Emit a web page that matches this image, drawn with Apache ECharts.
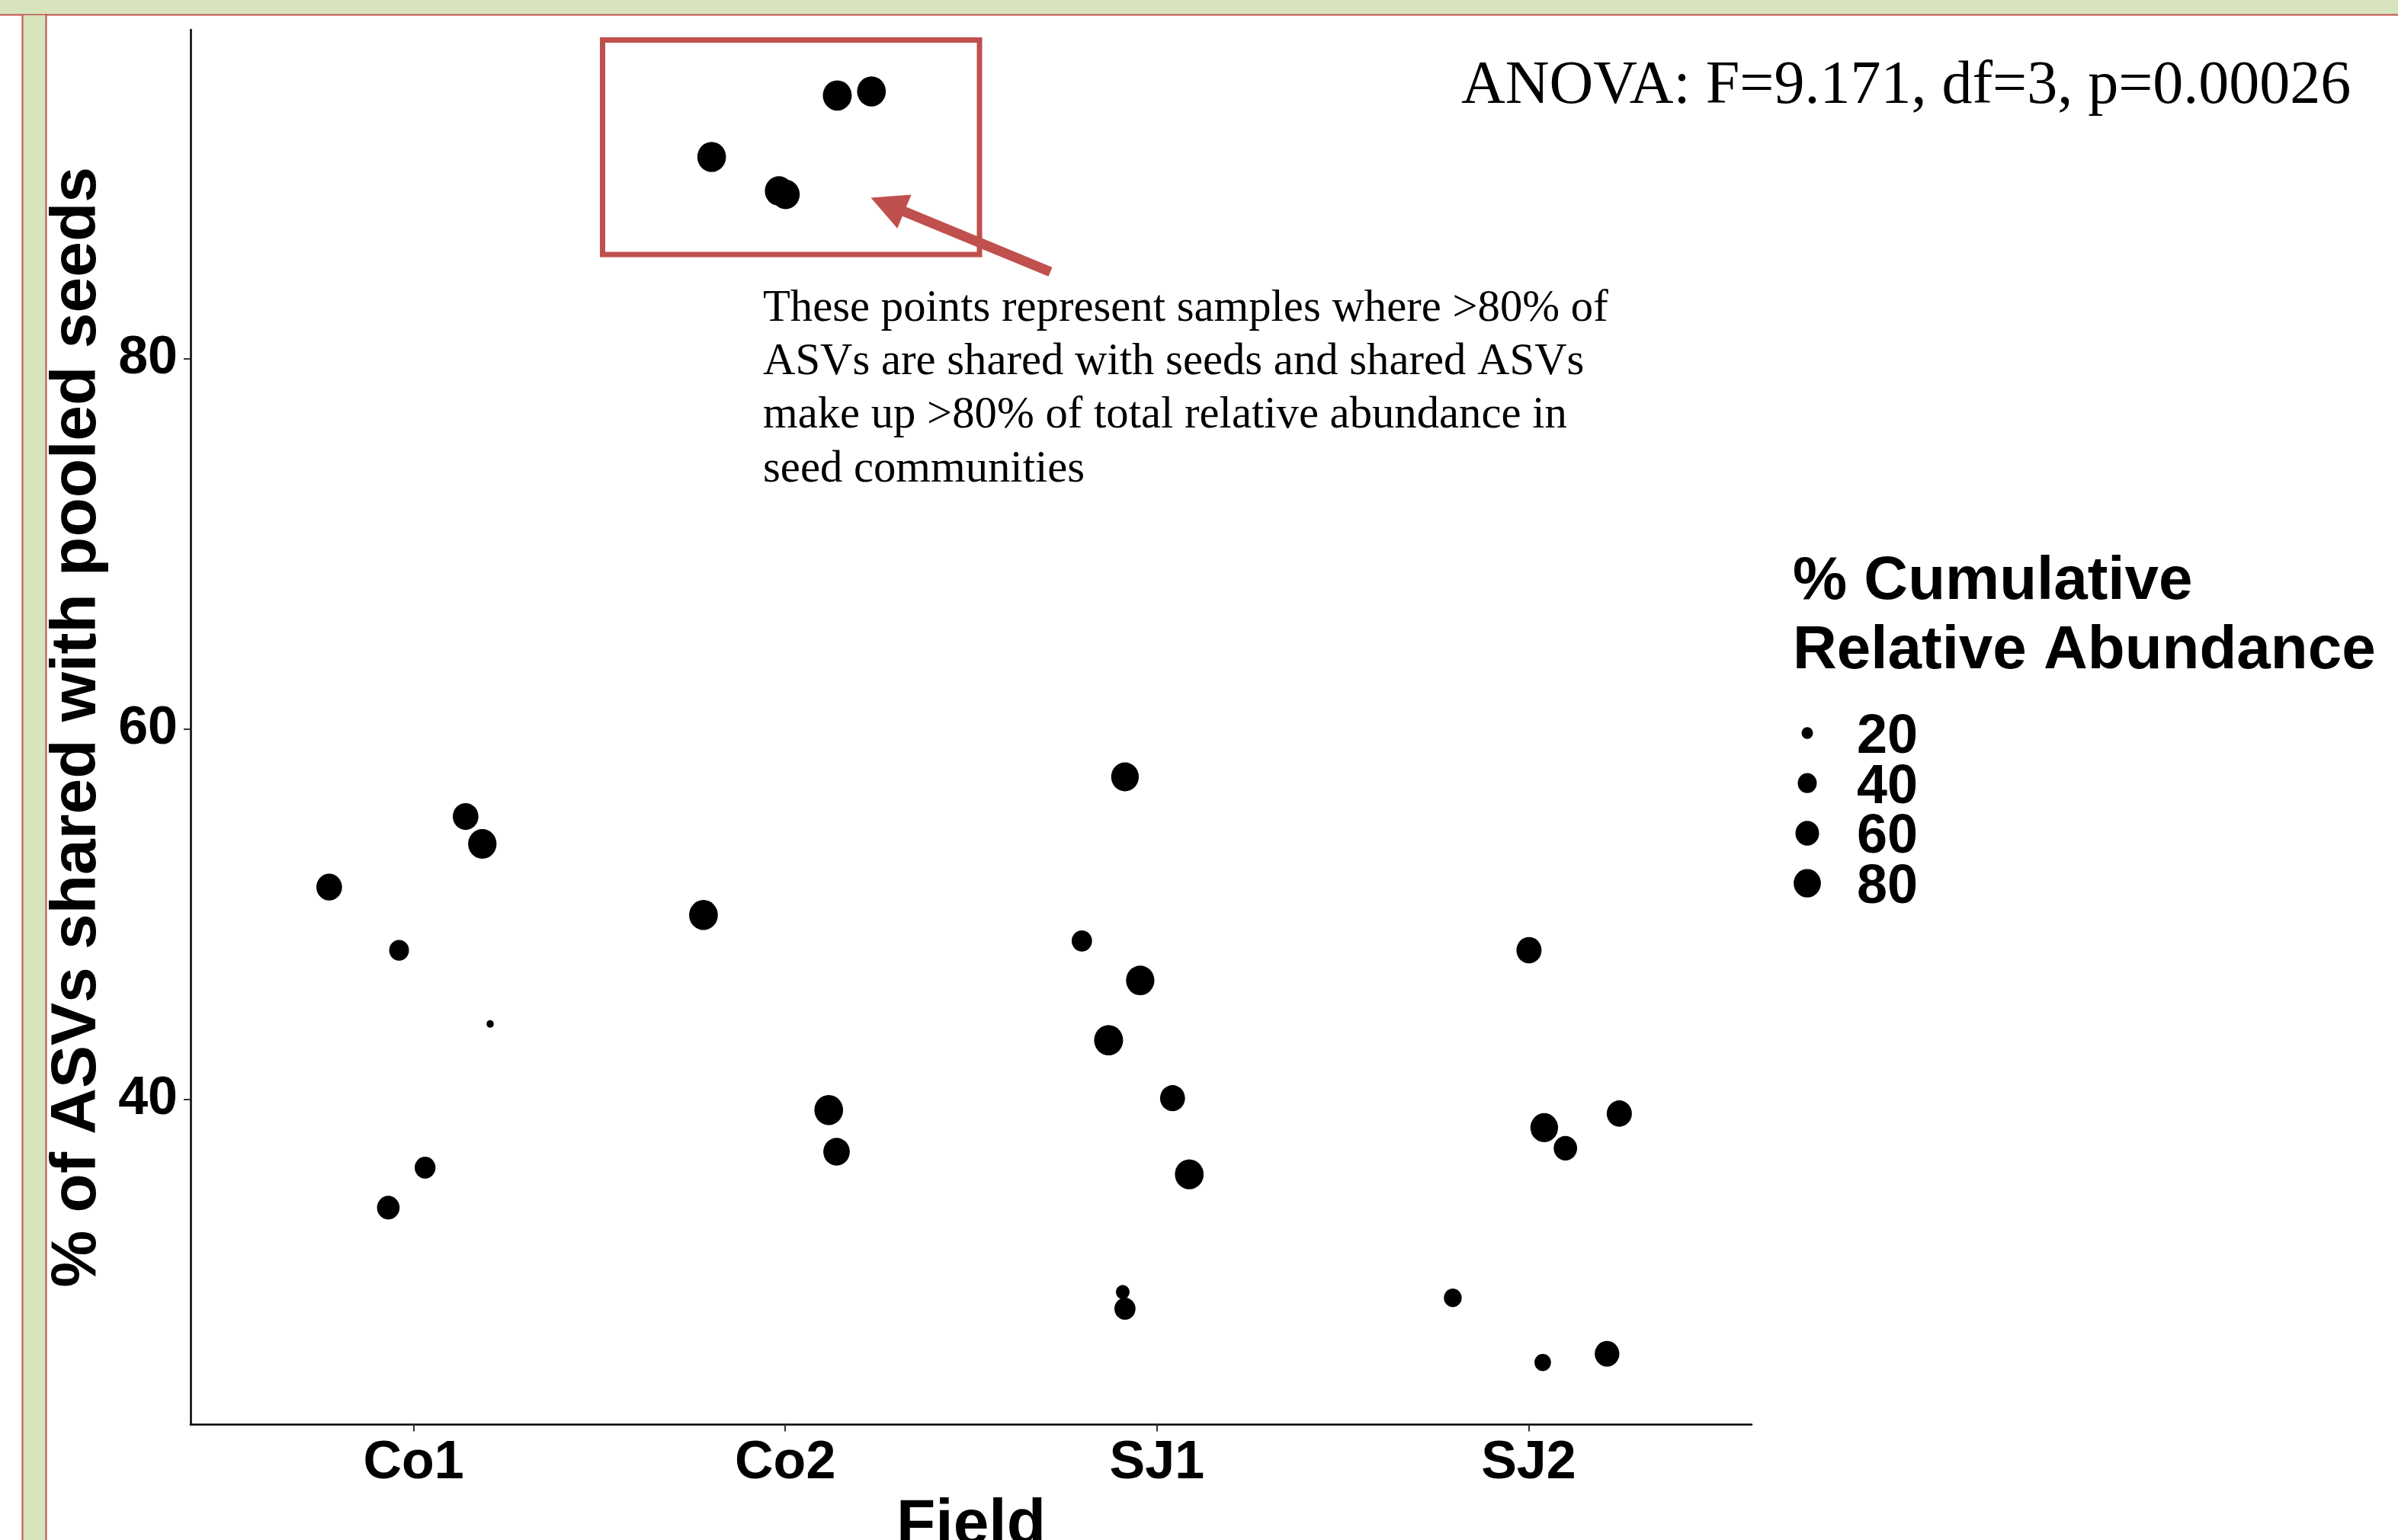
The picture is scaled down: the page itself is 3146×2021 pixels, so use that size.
<!DOCTYPE html>
<html>
<head>
<meta charset="utf-8">
<style>
html, body { margin: 0; padding: 0; background: #fff; }
#chart { width: 3146px; height: 2021px; }
</style>
<script src="https://cdn.jsdelivr.net/npm/echarts@6/dist/echarts.min.js"></script>
</head>
<body>
<div id="chart"></div>
<script>
// fields (x axis)
var fields = ['Co1', 'Co2', 'SJ1', 'SJ2'];

// jittered position, % of ASVs shared, % cumulative relative abundance
var co1X = [1.140, 1.185, 0.773, 0.961, 1.206, 1.031, 0.932];
var co1Y = [55.27, 53.79, 51.46, 48.05, 44.07, 36.31, 34.15];
var co1Abund = [71, 87.5, 71, 43, 16.2, 47, 55];

var co2X = [1.802, 1.983, 2.001, 2.140, 2.232, 1.780, 2.117, 2.138];
var co2Y = [90.88, 89.04, 88.86, 94.20, 94.42, 49.95, 39.42, 37.17];
var co2Abund = [89.5, 86, 86, 91, 89.5, 89.5, 89.5, 75.5];

var sj1X = [2.914, 2.798, 2.955, 2.870, 3.042, 3.087, 2.908, 2.914];
var sj1Y = [57.41, 48.55, 46.42, 43.19, 40.06, 35.95, 29.59, 28.69];
var sj1Abund = [82.7, 45, 87, 91, 66.8, 89.5, 24.2, 48.2];

var sj2X = [4.001, 4.042, 4.099, 4.244, 3.796, 4.038, 4.211];
var sj2Y = [48.05, 38.47, 37.36, 39.23, 29.28, 25.79, 26.26];
var sj2Abund = [68, 82.7, 58.8, 68, 35.4, 31.5, 65.1];

var yTicks = [40, 60, 80];
var xTicks = [1, 2, 3, 4];
var sizeBreaks = [20, 40, 60, 80];

var red = '#C0504D';
var green = '#D8E4BC';
var sans = '"Liberation Sans", Arial, sans-serif';
var narrow = '"Liberation Sans Narrow", "Liberation Sans", Arial, sans-serif';
var serif = '"Liberation Serif", "Times New Roman", serif';

// size scale (area style, like ggplot scale_size)
function dotWidth(v) {
	return 8.1 + 29.7 * Math.sqrt(Math.max(v - 16, 0) / 74);
}

function pts(xs, ys, ab) {
	var out = [];
	for (var i = 0; i < xs.length; i++) {
		out.push([xs[i], ys[i], ab[i]]);
	}
	return out;
}

var chart = echarts.init(document.getElementById('chart'));

var ellipse = 'path://M0,50A50,50,0,1,1,100,50A50,50,0,1,1,0,50Z';

function field(name, data) {
	return {
		name: name,
		type: 'scatter',
		data: data,
		symbol: ellipse,
		symbolSize: function(d) {
			var w = dotWidth(d[2]);
			return [w, w / 0.955];
		},
		itemStyle: { color: '#000', opacity: 1 },
		emphasis: { disabled: true },
		silent: true
	};
}

// arrow (slide annotation)
var tip = [1142.5, 259.5], tail = [1378, 356.7];
var dx = tip[0] - tail[0], dy = tip[1] - tail[1];
var len = Math.sqrt(dx * dx + dy * dy);
var ux = dx / len, uy = dy / len;
var nx = -uy, ny = ux;
var base = [tip[0] - ux * 47.5, tip[1] - uy * 47.5];
function off(p, k) { return [p[0] + nx * k, p[1] + ny * k]; }
var arrowPts = [off(tail, 6.5), off(base, 6.5), off(base, 24), tip, off(base, -24), off(base, -6.5), off(tail, -6.5)];

var graphics = [
	{ type: 'rect', shape: { x: 0, y: 0, width: 3146, height: 19 }, style: { fill: green }, z: 0 },
	{ type: 'rect', shape: { x: 0, y: 18.5, width: 3146, height: 2 }, style: { fill: red }, z: 0 },
	{ type: 'rect', shape: { x: 30, y: 20, width: 30, height: 2001 }, style: { fill: green }, z: 0 },
	{ type: 'rect', shape: { x: 28.5, y: 20, width: 2, height: 2001 }, style: { fill: red }, z: 0 },
	{ type: 'rect', shape: { x: 59.5, y: 18.5, width: 2, height: 2003 }, style: { fill: red }, z: 0 },
	{ type: 'polygon', shape: { points: arrowPts }, style: { fill: red }, z: 100 },
	{
		type: 'text', x: 1917, y: 74, z: 100,
		style: { text: 'ANOVA: F=9.171, df=3, p=0.00026', font: '80px ' + serif, fill: '#000', lineHeight: 80, textAlign: 'left', textVerticalAlign: 'top' }
	},
	{
		type: 'text', x: 1001, y: 370, z: 100,
		style: {
			text: 'These points represent samples where >80% of\nASVs are shared with seeds and shared ASVs\nmake up >80% of total relative abundance in\nseed communities',
			font: '58.7px ' + serif, fill: '#000', lineHeight: 70.4, textAlign: 'left', textVerticalAlign: 'top'
		}
	},
	{
		type: 'text', x: 2352, y: 718, z: 100,
		style: { text: '% Cumulative\nRelative Abundance', font: 'bold 80px ' + sans, fill: '#000', lineHeight: 91, textAlign: 'left', textVerticalAlign: 'top' }
	}
];

// size legend
sizeBreaks.forEach(function(v, i) {
	var cy = 962 + i * 65.7;
	var w = dotWidth(v);
	graphics.push({
		type: 'circle', x: 2371, y: cy, scaleX: 0.955, z: 100,
		shape: { cx: 0, cy: 0, r: w / 0.955 / 2 },
		style: { fill: '#000' }
	});
	graphics.push({
		type: 'text', x: 2436, y: cy + 6, z: 100,
		style: { text: String(v), font: 'bold 72px ' + narrow, fill: '#000', textAlign: 'left', textVerticalAlign: 'middle' }
	});
});

var series = [
	field('Co1', pts(co1X, co1Y, co1Abund)),
	field('Co2', pts(co2X, co2Y, co2Abund)),
	field('SJ1', pts(sj1X, sj1Y, sj1Abund)),
	field('SJ2', pts(sj2X, sj2Y, sj2Abund))
];

// red box round the high points
series[1].markArea = {
	silent: true,
	itemStyle: { color: 'rgba(0,0,0,0)', borderColor: red, borderWidth: 7 },
	label: { show: false },
	data: [[{ coord: [1.5085, 97.19] }, { coord: [2.5226, 85.61] }]]
};

chart.setOption({
	backgroundColor: '#fff',
	animation: false,
	grid: {
		left: 250,
		right: 848,
		top: 39,
		bottom: 151.5,
		containLabel: false,
		outerBoundsMode: 'none'
	},
	xAxis: {
		type: 'value',
		min: 0.4,
		max: 4.6,
		name: 'Field',
		nameLocation: 'middle',
		nameGap: 79,
		nameTextStyle: { fontSize: 84, fontWeight: 'bold', color: '#000', fontFamily: sans },
		axisLine: { show: true, lineStyle: { color: '#000', width: 2.5 } },
		axisTick: { show: true, customValues: xTicks, length: 9, lineStyle: { color: '#333', width: 2 } },
		axisLabel: {
			customValues: xTicks,
			margin: 16,
			fontSize: 70,
			fontWeight: 'bold',
			fontFamily: narrow,
			color: '#000',
			formatter: function(v) { return fields[Math.round(v) - 1]; }
		},
		splitLine: { show: false }
	},
	yAxis: {
		type: 'value',
		min: 22.44,
		max: 97.75,
		name: '% of ASVs shared with pooled seeds',
		nameLocation: 'middle',
		nameGap: 81,
		nameTextStyle: { fontSize: 84, fontWeight: 'bold', color: '#000', fontFamily: sans },
		axisLine: { show: true, lineStyle: { color: '#000', width: 2.5 } },
		axisTick: { show: true, customValues: yTicks, length: 9, lineStyle: { color: '#333', width: 2 } },
		axisLabel: {
			customValues: yTicks,
			margin: 17,
			fontSize: 70,
			fontWeight: 'bold',
			fontFamily: narrow,
			color: '#000'
		},
		splitLine: { show: false }
	},
	graphic: graphics,
	series: series
});
</script>
</body>
</html>
